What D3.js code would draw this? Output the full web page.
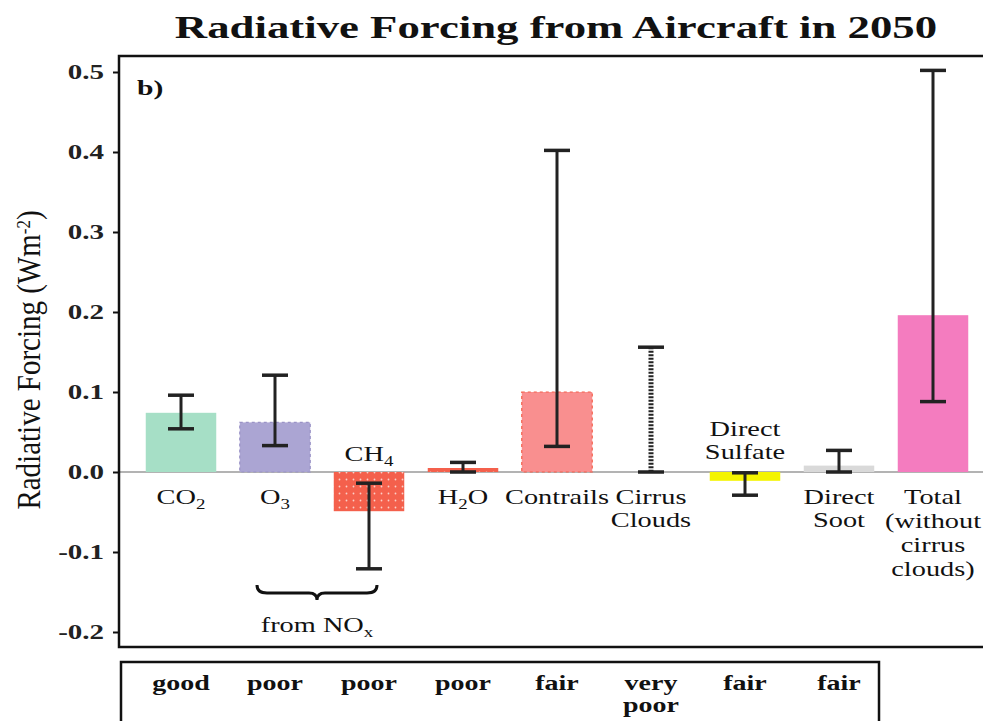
<!DOCTYPE html>
<html>
<head>
<meta charset="utf-8">
<script src="https://cdn.jsdelivr.net/npm/d3@7"></script>
<style>
  body { margin: 0; background: #fff; }
  svg { display: block; font-family: "Liberation Serif", "DejaVu Serif", serif; }
</style>
</head>
<body>
<svg id="chart" width="983" height="721"></svg>
<script>
// data
const categories = ["CO2", "O3", "CH4", "H2O", "Contrails", "Cirrus", "Sulfate", "Soot", "Total"];
const values   = [0.074, 0.062, -0.049, 0.005, 0.100, 0.000, -0.011, 0.008, 0.196];
const errLow   = [0.054, 0.033, -0.121, 0.000, 0.032, 0.000, -0.029, 0.000, 0.088];
const errHigh  = [0.096, 0.121, -0.014, 0.012, 0.402, 0.156, -0.001, 0.027, 0.502];
const colors   = ["#a6dfc6", "#aba5d3", "#f4604c", "#f4604c", "#f98f8f", "none", "#f4f400", "#d9d9d9", "#f47cbf"];
const quality  = ["good", "poor", "poor", "poor", "fair", "very|poor", "fair", "fair"];
const yTicks   = [0.5, 0.4, 0.3, 0.2, 0.1, 0.0, -0.1, -0.2];

const sx = 1.35; // the figure is stretched sideways
const svg = d3.select("#chart");

const x = d3.scaleBand().domain(categories).range([134, 980]).paddingInner(0.25).paddingOuter(0.125);
const y = d3.scaleLinear().domain([-0.2, 0.5]).range([632, 72]);

function label(g, tx, ty, opts) {
	return g.append("text")
		.attr("transform", "translate(" + tx + "," + ty + ") scale(" + (opts.sx || sx) + ",1)")
		.attr("text-anchor", opts.anchor || "middle")
		.attr("font-size", opts.size || 21)
		.attr("font-weight", opts.weight || "normal")
		.attr("fill", "#111");
}

// dotted fill for CH4 / H2O
const defs = svg.append("defs");
const pat = defs.append("pattern")
	.attr("id", "dots")
	.attr("width", 7).attr("height", 7)
	.attr("patternUnits", "userSpaceOnUse");
pat.append("rect").attr("width", 7).attr("height", 7).attr("fill", "#f4604c");
pat.append("circle").attr("cx", 3.5).attr("cy", 3.5).attr("r", 0.9).attr("fill", "#fbd0c8");

// title
label(svg, 556, 38, {size: 32, weight: "bold", sx: 1.4}).text("Radiative Forcing from Aircraft in 2050");

// y axis label
const yl = svg.append("text")
	.attr("transform", "translate(40,360) rotate(-90) scale(1,1.15)")
	.attr("text-anchor", "middle")
	.attr("font-size", 29)
	.attr("fill", "#111");
yl.append("tspan").text("Radiative Forcing (Wm");
yl.append("tspan").attr("font-size", 17).attr("dy", -9).text("-2");
yl.append("tspan").attr("dy", 9).text(")");

// zero line
svg.append("line")
	.attr("x1", 119).attr("x2", 990)
	.attr("y1", y(0)).attr("y2", y(0))
	.attr("stroke", "#9a9a9a").attr("stroke-width", 1.5);

// bars
svg.selectAll(".bar")
	.data(categories)
	.enter()
	.append("rect")
	.attr("class", "bar")
	.attr("x", d => x(d))
	.attr("width", x.bandwidth())
	.attr("y", (d, i) => y(Math.max(0, values[i])))
	.attr("height", (d, i) => Math.abs(y(values[i]) - y(0)))
	.attr("fill", (d, i) => (d == "CH4" || d == "H2O") ? "url(#dots)" : colors[i])
	.attr("stroke", (d, i) => d == "Contrails" ? "#f4604c" : (d == "O3" ? "#9a93c6" : "none"))
	.attr("stroke-width", 1.2)
	.attr("stroke-dasharray", "3,3");

// error bars
const eb = svg.selectAll(".err")
	.data(categories)
	.enter()
	.append("g")
	.attr("class", "err")
	.attr("stroke", "#222");

eb.append("line")
	.attr("x1", d => x(d) + x.bandwidth() / 2)
	.attr("x2", d => x(d) + x.bandwidth() / 2)
	.attr("y1", (d, i) => y(errHigh[i]))
	.attr("y2", (d, i) => y(errLow[i]))
	.attr("stroke-width", d => d == "Cirrus" ? 5 : 3)
	.attr("stroke-dasharray", d => d == "Cirrus" ? "2,1.5" : null);

[errHigh, errLow].forEach(function(arr) {
	eb.append("line")
		.attr("x1", d => x(d) + x.bandwidth() / 2 - 13)
		.attr("x2", d => x(d) + x.bandwidth() / 2 + 13)
		.attr("y1", (d, i) => y(arr[i]))
		.attr("y2", (d, i) => y(arr[i]))
		.attr("stroke-width", 3.5);
});

// category labels
const cx = d => x(d) + x.bandwidth() / 2;
const y0 = y(0);
let t;
function sub(t, s) { t.append("tspan").attr("font-size", 14).attr("dy", 5).text(s); }
t = label(svg, cx("CO2"), y0 + 32, {}); t.append("tspan").text("CO"); sub(t, "2");
t = label(svg, cx("O3"), y0 + 32, {}); t.append("tspan").text("O"); sub(t, "3");
t = label(svg, cx("CH4"), y0 - 11, {}); t.append("tspan").text("CH"); sub(t, "4");
t = label(svg, cx("H2O"), y0 + 32, {}); t.append("tspan").text("H"); sub(t, "2"); t.append("tspan").attr("dy", -5).text("O");
label(svg, cx("Contrails"), y0 + 32, {}).text("Contrails");
label(svg, cx("Cirrus"), y0 + 32, {}).text("Cirrus");
label(svg, cx("Cirrus"), y0 + 55, {}).text("Clouds");
label(svg, cx("Sulfate"), y0 - 36, {}).text("Direct");
label(svg, cx("Sulfate"), y0 - 13, {}).text("Sulfate");
label(svg, cx("Soot"), y0 + 32, {}).text("Direct");
label(svg, cx("Soot"), y0 + 55, {}).text("Soot");
["Total", "(without", "cirrus", "clouds)"].forEach(function(s, i) {
	label(svg, cx("Total"), y0 + 32 + i * 24, {}).text(s);
});

// brace under O3 + CH4
const bx1 = cx("O3") - 18, bx2 = cx("CH4") + 8, bm = (bx1 + bx2) / 2, by = 585;
svg.append("path")
	.attr("d", "M" + bx1 + "," + by + " Q" + bx1 + "," + (by + 8) + " " + (bx1 + 10) + "," + (by + 8) +
		" L" + (bm - 8) + "," + (by + 8) + " Q" + bm + "," + (by + 8) + " " + bm + "," + (by + 15) +
		" Q" + bm + "," + (by + 8) + " " + (bm + 8) + "," + (by + 8) +
		" L" + (bx2 - 10) + "," + (by + 8) + " Q" + bx2 + "," + (by + 8) + " " + bx2 + "," + by)
	.attr("fill", "none").attr("stroke", "#111").attr("stroke-width", 3);
t = label(svg, bm, 632, {}); t.append("tspan").text("from NO"); sub(t, "x");

// y axis
const axis = svg.append("g")
	.attr("transform", "translate(119,0)")
	.call(d3.axisLeft(y).tickValues(yTicks).tickSize(6).tickFormat(d => d.toFixed(1)));
axis.select(".domain").remove();
axis.selectAll("line").attr("stroke", "#111").attr("stroke-width", 2);
axis.selectAll("text")
	.attr("x", -15 / 1.45)
	.attr("transform", "scale(1.45,1)")
	.attr("font-family", "Liberation Serif")
	.attr("font-size", 20)
	.attr("font-weight", "bold")
	.attr("fill", "#222");

// frame
svg.append("rect")
	.attr("x", 119).attr("y", 56)
	.attr("width", 900).attr("height", 591)
	.attr("fill", "none").attr("stroke", "#111").attr("stroke-width", 2.5);

label(svg, 137, 95, {size: 22, weight: "bold", anchor: "start"}).text("b)");

// quality box
svg.append("rect")
	.attr("x", 121).attr("y", 662)
	.attr("width", 758).attr("height", 80)
	.attr("fill", "none").attr("stroke", "#111").attr("stroke-width", 2.5);

quality.forEach(function(q, i) {
	q.split("|").forEach(function(s, j) {
		label(svg, cx(categories[i]), 690 + j * 22, {size: 20, weight: "bold", sx: 1.4}).text(s);
	});
});
</script>
</body>
</html>
